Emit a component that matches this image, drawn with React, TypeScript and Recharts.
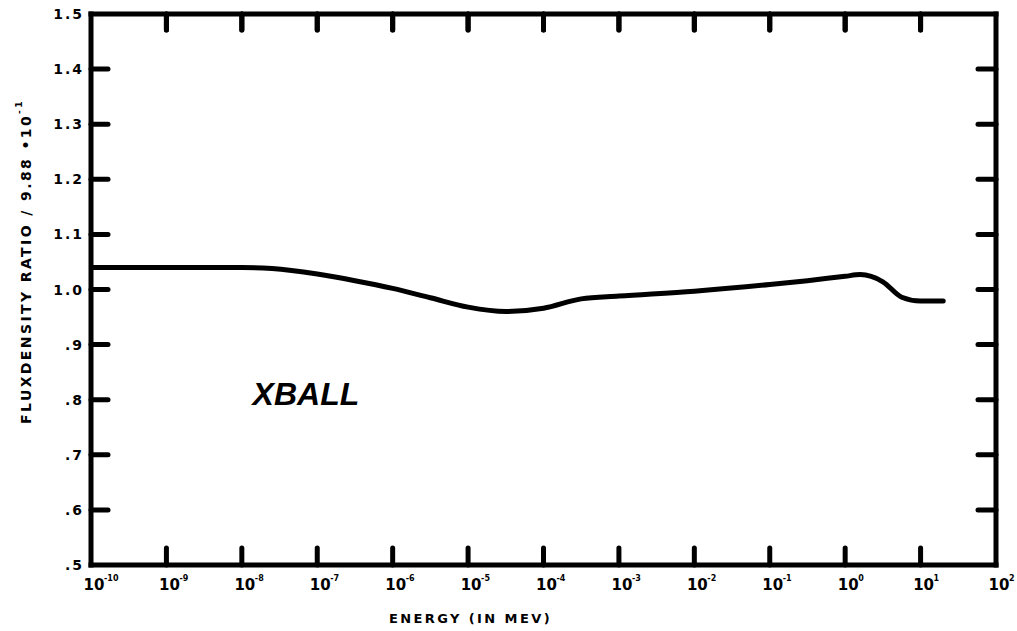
import React from "react";
import { LineChart, Line, XAxis, YAxis, ReferenceDot, ReferenceLine, Label } from "recharts";

// log10 of the energy in MeV
const energyExp = [-10, -9, -8, -7.6, -7, -6.5, -6, -5.5, -5, -4.5, -4, -3.5, -3, -2, -1, -0.5, 0, 0.2, 0.5, 0.75, 1, 1.3];
const fluxRatio = [1.04, 1.04, 1.04, 1.038, 1.028, 1.016, 1.002, 0.985, 0.968, 0.96, 0.966, 0.983, 0.988, 0.997, 1.009, 1.016, 1.024, 1.027, 1.014, 0.986, 0.979, 0.979];

const xTicks = [-10, -9, -8, -7, -6, -5, -4, -3, -2, -1, 0, 1, 2];
const innerXTicks = [-9, -8, -7, -6, -5, -4, -3, -2, -1, 0, 1];
const yTicks = [0.5, 0.6, 0.7, 0.8, 0.9, 1.0, 1.1, 1.2, 1.3, 1.4, 1.5];
const innerYTicks = [0.6, 0.7, 0.8, 0.9, 1.0, 1.1, 1.2, 1.3, 1.4];

const annotation = { logE: -7.15, flux: 0.79, text: "XBALL" };

const data = energyExp.map((e, i) => ({ logE: e, flux: fluxRatio[i] }));

const FONT = "DejaVu Sans";
const Y_MAX = 1.5;
const TOP_TICK = 0.029; // ~16px inward, in ratio units
const frame = { stroke: "#000", strokeWidth: 5, strokeLinecap: "square" as const };
const tickMark = { stroke: "#000", strokeWidth: 5, strokeLinecap: "round" as const };

// the frame axes only draw their inward tick marks
function NoLabel() {
  return <g />;
}

// top frame: short marks hanging down into the plot
function TopMark(props: any) {
  const { x, y } = props;
  return <line x1={x} y1={y} x2={x} y2={y + 16} stroke="#000" strokeWidth={5} strokeLinecap="round" />;
}

function EnergyTick(props: any) {
  const { x, y, payload } = props;
  return (
    <g>
      <text x={x + 3} y={y + 25} textAnchor="middle" fontFamily={FONT} fontWeight="bold" fontSize={15} fill="#000">
        10
      </text>
      <text x={x + 13} y={y + 16} fontFamily={FONT} fontWeight="bold" fontSize={8} fill="#000">
        {payload.value}
      </text>
    </g>
  );
}

function RatioTick(props: any) {
  const { x, y, payload } = props;
  const s = payload.value.toFixed(1);
  const label = payload.value < 1 ? s.slice(1) : s;
  return (
    <text x={x} y={y} dy="0.36em" textAnchor="end" fontFamily={FONT} fontWeight="bold" fontSize={14} letterSpacing={2} fill="#000">
      {label}
    </text>
  );
}

function FluxLabel(props: any) {
  const vb = props.viewBox;
  const cx = vb.x + 6;
  const cy = vb.y + vb.height / 2 - 28;
  return (
    <text
      x={cx}
      y={cy}
      transform={`rotate(-90, ${cx}, ${cy})`}
      textAnchor="middle"
      dominantBaseline="central"
      fontFamily={FONT}
      fontWeight="bold"
      fontSize={14}
      letterSpacing={2.4}
      fill="#000"
    >
      FLUXDENSITY RATIO / 9.88 •10
      <tspan dy={-7} fontSize={9}>-1</tspan>
    </text>
  );
}

function EnergyLabel(props: any) {
  const vb = props.viewBox;
  return (
    <text
      x={vb.x + vb.width / 2 - 73}
      y={vb.y + 58}
      textAnchor="middle"
      fontFamily={FONT}
      fontWeight="bold"
      fontSize={13}
      letterSpacing={2.4}
      fill="#000"
    >
      ENERGY (IN MEV)
    </text>
  );
}

function NameLabel(props: any) {
  const vb = props.viewBox;
  return (
    <text
      x={vb.x + vb.width / 2}
      y={vb.y + vb.height / 2}
      textAnchor="middle"
      fontFamily="Liberation Sans"
      fontWeight="bold"
      fontStyle="italic"
      fontSize={32}
      fill="#000"
    >
      {annotation.text}
    </text>
  );
}

export default function App() {
  return (
    <div style={{ position: "absolute", left: 0, top: 0, width: 1017, height: 631, background: "#fff" }}>
      <LineChart width={1017} height={631} data={data} margin={{ top: 12, right: 21, bottom: 36, left: 20 }}>
        <XAxis
          dataKey="logE"
          type="number"
          domain={[-10, 2]}
          ticks={xTicks}
          allowDataOverflow
          height={30}
          tickSize={0}
          tickMargin={0}
          tickLine={false}
          axisLine={frame}
          tick={<EnergyTick />}
          interval={0}
        >
          <Label content={<EnergyLabel />} />
        </XAxis>
        <XAxis
          xAxisId="bm"
          dataKey="logE"
          type="number"
          scale="linear"
          domain={[-10, 2]}
          ticks={innerXTicks}
          allowDataOverflow
          mirror
          height={20}
          tick={<NoLabel />}
          tickSize={17}
          tickLine={tickMark}
          axisLine={false}
          interval={0}
        />
        <XAxis
          xAxisId="xt"
          dataKey="logE"
          orientation="top"
          type="number"
          scale="linear"
          domain={[-10, 2]}
          ticks={innerXTicks}
          allowDataOverflow
          height={2}
          tickSize={0}
          tickMargin={0}
          tick={<TopMark />}
          tickLine={false}
          axisLine={frame}
          interval={0}
        />
        <YAxis
          type="number"
          domain={[0.5, Y_MAX]}
          ticks={yTicks}
          allowDataOverflow
          width={71}
          tickSize={0}
          tickMargin={7}
          tickLine={false}
          axisLine={frame}
          tick={<RatioTick />}
          interval={0}
        >
          <Label content={<FluxLabel />} />
        </YAxis>
        <YAxis yAxisId="lm" type="number" domain={[0.5, Y_MAX]} ticks={innerYTicks} allowDataOverflow mirror tick={<NoLabel />} tickSize={17} tickLine={tickMark} axisLine={false} interval={0} />
        <YAxis yAxisId="right" orientation="right" type="number" domain={[0.5, Y_MAX]} ticks={innerYTicks} allowDataOverflow mirror tick={<NoLabel />} tickSize={18} tickLine={tickMark} axisLine={frame} interval={0} />
        {innerXTicks.map((e) => (
          <ReferenceLine
            key={`top-${e}`}
            ifOverflow="visible"
            segment={[
              { x: e, y: Y_MAX },
              { x: e, y: Y_MAX - TOP_TICK },
            ]}
            stroke="#000"
            strokeWidth={5}
            strokeLinecap="round"
          />
        ))}
        <Line type="monotone" dataKey="flux" stroke="#000" strokeWidth={5} strokeLinecap="round" dot={false} isAnimationActive={false} />
        <ReferenceDot x={annotation.logE} y={annotation.flux} r={1} fill="none" stroke="none" label={<NameLabel />} />
      </LineChart>
    </div>
  );
}
